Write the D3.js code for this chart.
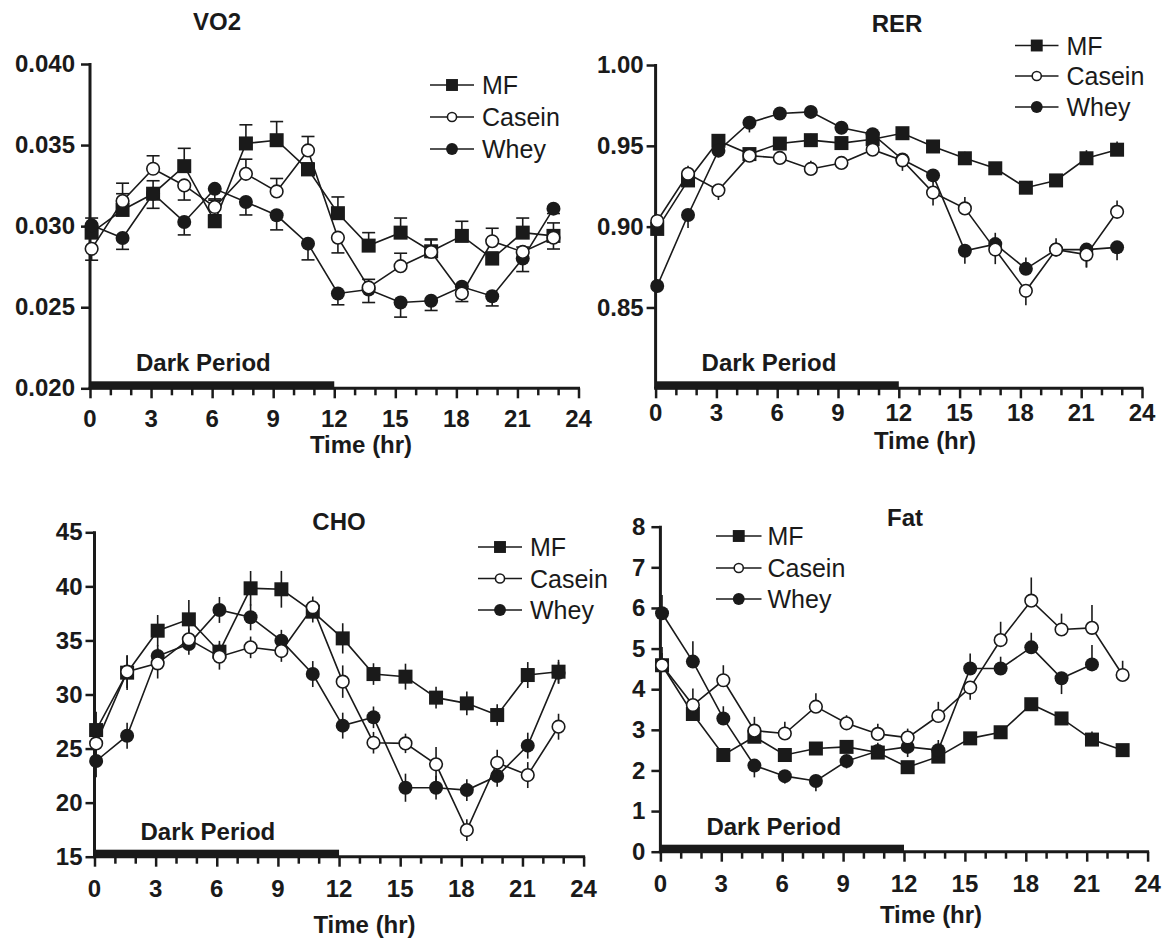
<!DOCTYPE html>
<html><head><meta charset="utf-8">
<script src="https://cdn.jsdelivr.net/npm/d3@7"></script>
<style>
body{margin:0;background:#fff}
svg{display:block}
text{font-family:"Liberation Sans",Arial,Helvetica,sans-serif;fill:#1a1a1a}
</style>
</head><body>
<svg id="c" width="1171" height="940"></svg>
<script>
// ---------- DATA ----------
const times = [0.08,1.6,3.1,4.63,6.13,7.66,9.17,10.71,12.18,13.69,15.26,16.76,18.27,19.76,21.26,22.77];
const seriesNames = ["MF","Casein","Whey"];
const xTickLabels = [0,3,6,9,12,15,18,21,24];
const darkPeriod = [0,12];
const darkLabel = "Dark Period";
const xTitle = "Time (hr)";

// VO2
const vo2Ticks = [0.020,0.025,0.030,0.035,0.040];
const vo2MF     = [0.0296,0.0310,0.0320,0.0337,0.0303,0.0351,0.0353,0.0335,0.0308,0.0288,0.0296,0.02845,0.0294,0.0280,0.0296,0.0294];
const vo2MFErr  = [0.0009,0.0010,0.0008,0.0011,0.0004,0.00115,0.00115,0.0004,0.0010,0.0008,0.0009,0.0007,0.0009,0.0004,0.0009,0.0008];
const vo2Casein = [0.0286,0.03155,0.03354,0.03251,0.03118,0.03323,0.03214,0.03467,0.02929,0.02622,0.02753,0.02841,0.02585,0.02907,0.02841,0.02929];
const vo2CaseinErr = [-0.0007,0.0011,0.0008,-0.0009,0.0005,0.0009,0.0008,0.00086,-0.00094,0.0005,0.0008,0.0008,-0.0005,0.0008,0.0003,-0.0007];
const vo2Whey   = [0.03005,0.02927,0.0320,0.03026,0.0323,0.03149,0.03067,0.02892,0.02585,0.02609,0.02529,0.0254,0.02626,0.02568,0.0280,0.03108];
const vo2WheyErr = [-0.0003,-0.0007,-0.0009,-0.0008,-0.0007,-0.0008,-0.0009,-0.0010,-0.0007,-0.0008,-0.0009,-0.0006,-0.0003,-0.0006,-0.0008,-0.0003];

// RER
const rerTicks = [0.85,0.90,0.95,1.00];
const rerMF     = [0.8986,0.9286,0.9531,0.9449,0.9514,0.9535,0.9517,0.9541,0.9578,0.9496,0.9423,0.9361,0.9241,0.9286,0.9423,0.9476];
const rerMFErr  = [0.003,0.003,0.004,0.003,0.003,0.004,0.003,0.003,0.003,0.004,0.004,0.003,0.003,0.003,0.005,0.005];
const rerCasein = [0.9035,0.9327,0.9225,0.9439,0.9425,0.9357,0.9394,0.9476,0.941,0.9211,0.9113,0.8858,0.8603,0.8858,0.8827,0.9092];
const rerCaseinErr = [0.003,0.005,-0.006,0.004,0.003,0.005,0.004,0.003,0.003,-0.008,0.007,-0.009,-0.009,0.004,-0.008,0.007];
const rerWhey   = [0.8633,0.9072,0.947,0.9643,0.970,0.971,0.9612,0.9572,0.9415,0.9317,0.8851,0.8892,0.8739,0.8858,0.8858,0.8872];
const rerWheyErr = [-0.003,-0.008,-0.004,-0.006,-0.003,-0.003,-0.004,-0.003,-0.007,-0.007,-0.008,0.007,0.007,0.007,-0.011,-0.008];

// CHO
const choTicks = [15,20,25,30,35,40,45];
const choMF     = [26.71,32.02,35.90,36.95,33.96,39.82,39.73,37.66,35.19,31.89,31.65,29.71,29.18,28.10,31.80,32.11];
const choMFErr  = [1.7,1.6,1.45,1.8,1.0,1.6,1.7,1.0,1.4,1.0,1.2,1.0,1.1,1.0,1.2,1.1];
const choCasein = [25.48,32.11,32.88,35.10,33.50,34.36,34.02,38.06,31.19,25.54,25.48,23.54,17.46,23.69,22.55,27.02];
const choCaseinErr = [1.0,1.5,1.4,1.0,1.2,1.0,1.0,1.0,1.5,1.0,0.9,1.6,1.0,1.2,1.2,1.2];
const choWhey   = [23.85,26.19,33.56,34.67,37.82,37.14,34.98,31.89,27.12,27.89,21.38,21.38,21.16,22.46,25.27,32.00];
const choWheyErr = [1.5,1.2,1.0,1.0,1.2,1.2,1.0,1.2,1.2,1.0,1.3,1.1,1.0,1.0,1.2,1.0];

// Fat
const fatTicks = [0,1,2,3,4,5,6,7,8];
const fatMF     = [4.59,3.39,2.38,2.83,2.38,2.54,2.58,2.44,2.08,2.34,2.79,2.94,3.63,3.28,2.76,2.50];
const fatMFErr  = [0.3,0.25,0.15,0.2,0.15,0.15,0.15,0.2,0.15,0.2,0.15,0.15,0.15,0.15,0.2,0.15];
const fatCasein = [4.59,3.61,4.22,2.98,2.91,3.57,3.16,2.90,2.81,3.34,4.04,5.21,6.18,5.47,5.51,4.35];
const fatCaseinErr = [0.45,0.41,0.37,0.34,0.29,0.33,0.2,0.25,0.22,0.35,-0.3,0.45,0.57,0.39,0.56,0.35];
const fatWhey   = [5.87,4.68,3.28,2.12,1.86,1.74,2.23,2.48,2.58,2.50,4.51,4.51,5.03,4.27,4.61,null];
const fatWheyErr = [0.45,0.5,0.3,-0.29,-0.18,-0.25,-0.18,0.2,-0.25,0.25,0.37,0.29,0.36,-0.39,0.48,null];

// ---------- LAYOUT ----------
const panels = [
  {title:"VO2", x0:90, x1:578.5, yTop:64, yBot:388.3, domain:[0.020,0.040], ticks:vo2Ticks, fmt:d3.format(".3f"), pad:6,
   titleX:217, titleY:30, legX0:430, legX1:474, legTX:482, legY:[85,117,149], tickLabY:427, xTitleX:361, xTitleY:453, caps:true, sym:false,
   data:[vo2MF,vo2Casein,vo2Whey], err:[vo2MFErr,vo2CaseinErr,vo2WheyErr]},
  {title:"RER", x0:655.6, x1:1142, yTop:65, yBot:388.3, domain:[0.80,1.00], ticks:rerTicks, fmt:d3.format(".2f"), pad:3,
   titleX:897, titleY:31.5, legX0:1015, legX1:1058.5, legTX:1066.5, legY:[45.5,76,107], tickLabY:421, xTitleX:925, xTitleY:449, caps:false, sym:false,
   data:[rerMF,rerCasein,rerWhey], err:[rerMFErr,rerCaseinErr,rerWheyErr]},
  {title:"CHO", x0:94.5, x1:583.6, yTop:532.3, yBot:856.7, domain:[15,45], ticks:choTicks, fmt:d3.format("d"), pad:3,
   titleX:339, titleY:530, legX0:478, legX1:522, legTX:530, legY:[547,578.5,610], tickLabY:897, xTitleX:364.5, xTitleY:932.5, caps:false, sym:true,
   data:[choMF,choCasein,choWhey], err:[choMFErr,choCaseinErr,choWheyErr]},
  {title:"Fat", x0:660.4, x1:1147.6, yTop:526.7, yBot:851.7, domain:[0,8], ticks:fatTicks, fmt:d3.format("d"), pad:6,
   titleX:905, titleY:526, legX0:716, legX1:761.5, legTX:767.5, legY:[536,568,599], tickLabY:892, xTitleX:931, xTitleY:923, caps:false, sym:false,
   data:[fatMF,fatCasein,fatWhey], err:[fatMFErr,fatCaseinErr,fatWheyErr]}
];

const INK = "#1a1a1a";
const svg = d3.select("#c");
const drawOrder = [0,2,1]; // MF, Whey, Casein (casein on top)

function marker(g, idx, cx, cy, s){
  s = s || 1;
  if(idx===0){
    const h = 7*s;
    g.append("rect").attr("x",cx-h).attr("y",cy-h).attr("width",2*h).attr("height",2*h).attr("fill",INK);
  } else if(idx===1){
    g.append("circle").attr("cx",cx).attr("cy",cy).attr("r",6.3*s*(s<1?0.85:1)).attr("fill","#fff").attr("stroke",INK).attr("stroke-width",1.6);
  } else {
    g.append("circle").attr("cx",cx).attr("cy",cy).attr("r",7*s).attr("fill",INK);
  }
}

panels.forEach(p=>{
  const x = d3.scaleLinear().domain([0,24]).range([p.x0,p.x1]);
  const y = d3.scaleLinear().domain(p.domain).range([p.yBot,p.yTop]);
  const g = svg.append("g");

  g.append("text").attr("x",p.titleX).attr("y",p.titleY).attr("text-anchor","middle")
    .attr("font-size",24).attr("font-weight","bold").text(p.title);

  const ya = g.append("g").attr("transform",`translate(${p.x0},0)`)
    .call(d3.axisLeft(y).tickValues(p.ticks).tickFormat(p.fmt).tickSize(9).tickPadding(p.pad));
  ya.select(".domain").remove();
  ya.selectAll(".tick line").attr("stroke",INK).attr("stroke-width",2.5);
  ya.selectAll(".tick text").attr("font-size",24).attr("font-weight","bold").attr("fill",INK)
    .attr("font-family","'Liberation Sans',Arial,sans-serif");
  g.append("line").attr("x1",p.x0).attr("x2",p.x0).attr("y1",p.yTop-1).attr("y2",p.yBot)
    .attr("stroke",INK).attr("stroke-width",3);

  const xa = g.append("g").attr("transform",`translate(0,${p.yBot})`)
    .call(d3.axisBottom(x).tickValues(d3.range(0,25,1)).tickFormat("").tickSize(7));
  xa.select(".domain").remove();
  xa.selectAll(".tick line").attr("stroke",INK).attr("stroke-width",2.5)
    .attr("y2",d=> xTickLabels.includes(d)?10:7);
  g.append("line").attr("x1",p.x0-1.5).attr("x2",p.x1+1.5).attr("y1",p.yBot).attr("y2",p.yBot)
    .attr("stroke",INK).attr("stroke-width",3);
  g.selectAll(".xl").data(xTickLabels).enter().append("text")
    .attr("x",d=>x(d)).attr("y",p.tickLabY).attr("text-anchor","middle")
    .attr("font-size",24).attr("font-weight","bold").text(d=>d);
  g.append("text").attr("x",p.xTitleX).attr("y",p.xTitleY).attr("text-anchor","middle")
    .attr("font-size",24).attr("font-weight","bold").text(xTitle);

  g.append("rect").attr("x",x(darkPeriod[0])).attr("y",p.yBot-7)
    .attr("width",x(darkPeriod[1])-x(darkPeriod[0])).attr("height",8).attr("fill",INK);
  g.append("text").attr("x",p.x0+46).attr("y",p.yBot-17).attr("font-size",24).attr("font-weight","bold").text(darkLabel);

  drawOrder.forEach(si=>{
    const vals = p.data[si], errs = p.err[si];
    const pts = times.map((t,i)=>({t, v:vals[i], e:errs[i]}));
    const sg = g.append("g");
    pts.filter(d=>d.v!=null && d.e!=null).forEach(d=>{
      const cx = x(d.t);
      const ya1 = p.sym ? y(d.v - Math.abs(d.e)) : y(d.v);
      const ya2 = p.sym ? y(d.v + Math.abs(d.e)) : y(d.v + d.e);
      sg.append("line").attr("x1",cx).attr("x2",cx).attr("y1",ya1).attr("y2",ya2)
        .attr("stroke",INK).attr("stroke-width",1.6);
      if(p.caps){
        sg.append("line").attr("x1",cx-6.5).attr("x2",cx+6.5).attr("y1",ya2).attr("y2",ya2)
          .attr("stroke",INK).attr("stroke-width",1.6);
      }
    });
    const line = d3.line().defined(d=>d.v!=null).x(d=>x(d.t)).y(d=>y(d.v));
    sg.append("path").attr("d",line(pts)).attr("fill","none").attr("stroke",INK).attr("stroke-width",1.6);
    pts.filter(d=>d.v!=null).forEach(d=>marker(sg, si, x(d.t), y(d.v)));
  });

  seriesNames.forEach((name,i)=>{
    const ly = p.legY[i];
    g.append("line").attr("x1",p.legX0).attr("x2",p.legX1).attr("y1",ly).attr("y2",ly)
      .attr("stroke",INK).attr("stroke-width",1.6);
    marker(g, i, (p.legX0+p.legX1)/2, ly, 0.85);
    g.append("text").attr("x",p.legTX).attr("y",ly+9).attr("font-size",25).text(name);
  });
});
</script>
</body></html>
